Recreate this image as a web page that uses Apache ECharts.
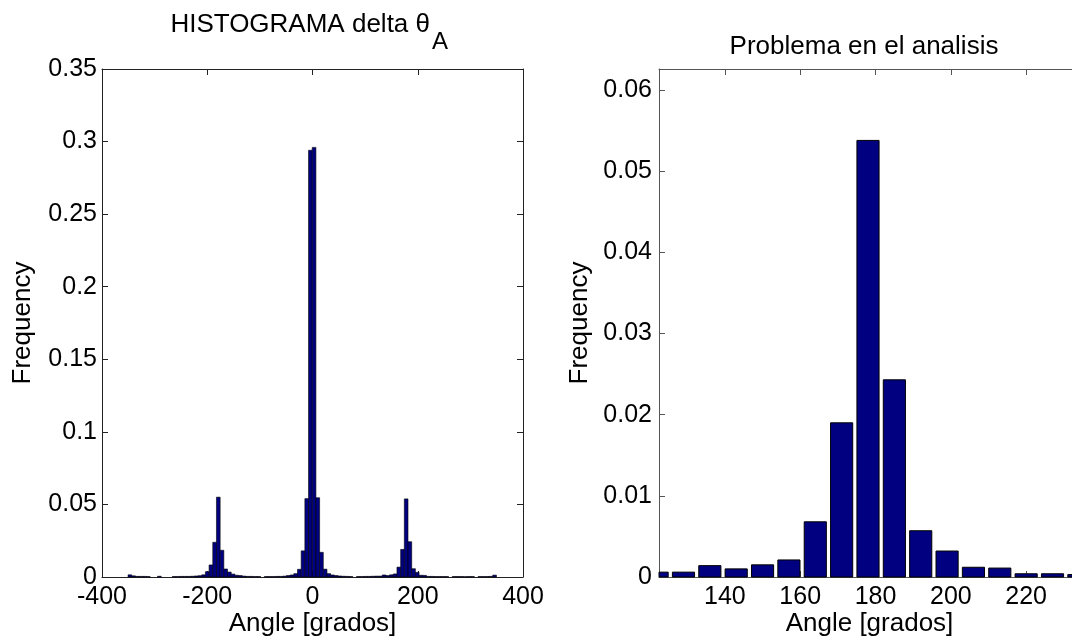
<!DOCTYPE html>
<html>
<head>
<meta charset="utf-8">
<script src="https://cdn.jsdelivr.net/npm/echarts@6/dist/echarts.min.js"></script>
<style>
html,body{margin:0;padding:0;background:#fff;}
#chart{width:1072px;height:638px;}
</style>
</head>
<body>
<div id="chart"></div>
<script>
// Histogram bin centres (degrees) – 100 bins of ~7 degrees
const binCenters = [
  -347,-340,-333,-326,-319,-312,-305,-298,-291,-284,
  -277,-270,-263,-256,-249,-242,-235,-228,-221,-214,
  -207,-200,-193,-186,-179,-172,-165,-158,-151,-144,
  -137,-130,-123,-116,-109,-102,-95,-88,-81,-74,
  -67,-60,-53,-46,-39,-32,-25,-18,-11,-4,
  3,10,17,24,31,38,45,52,59,66,
  73,80,87,94,101,108,115,122,129,136,
  143,150,157,164,171,178,185,192,199,206,
  213,220,227,234,241,248,255,262,269,276,
  283,290,297,304,311,318,325,332,339,346
];
// Relative frequency of each bin
const frequency = [
  0.0015,0.0008,0.0004,0.0004,0.0004,0.0003,0,0,0.0005,0,
  0,0,0.0003,0.0003,0.0004,0.0004,0.0004,0.0005,0.0007,0.0009,
  0.0015,0.0037,0.0083,0.0239,0.0550,0.0184,0.0055,0.0034,0.0020,0.0012,
  0.0010,0.0006,0.0004,0.0004,0.0003,0.0003,0,0.0003,0.0003,0.0003,
  0.0004,0.0004,0.0006,0.0010,0.0014,0.0023,0.0053,0.0180,0.0540,0.2940,
  0.2960,0.0546,0.0170,0.0054,0.0023,0.0014,0.0010,0.0007,0.0005,0.0004,
  0.0003,0,0.0003,0.0003,0.0004,0.0004,0.0005,0.0006,0.0006,0.0014,
  0.0010,0.0015,0.0021,0.0068,0.0190,0.0538,0.0243,0.0057,0.0032,0.0012,
  0.0011,0.0004,0.0004,0.0003,0.0003,0.0003,0.0003,0,0.0003,0.0003,
  0.0003,0.0002,0.0003,0.0003,0,0.0003,0.0003,0.0003,0.0004,0.0013
];
const leftXTicks = [-400,-200,0,200,400];
const rightXTicks = [140,160,180,200,220];
const rightYTicks = [0,0.01,0.02,0.03,0.04,0.05,0.06];

const titleLeft = 'HISTOGRAMA delta θ';
const titleLeftSub = 'A';
const titleRight = 'Problema en el analisis';
const xName = 'Angle [grados]';
const yName = 'Frequency';

const FONT = '"Liberation Sans", Arial, sans-serif';
const BIN = 7;

const chart = echarts.init(document.getElementById('chart'), null, {renderer:'canvas'});
const data = binCenters.map((c,i)=>[c, frequency[i]]);

function makeRender(frac, lw){
  return function(params, api){
    const x = api.value(0), y = api.value(1);
    if (!(y > 0)) return null;
    const hw = BIN*frac/2;
    const p0 = api.coord([x-hw, y]);
    const p1 = api.coord([x+hw, 0]);
    const cs = params.coordSys;
    const rect = echarts.graphic.clipRectByRect(
      {x:p0[0], y:p0[1], width:p1[0]-p0[0], height:p1[1]-p0[1]},
      {x:cs.x, y:cs.y, width:cs.width, height:cs.height});
    if (!rect) return null;
    return {type:'rect', shape:rect, style:{fill:'#000080', stroke:'#000000', lineWidth:lw}};
  };
}

const axisCol = '#222';
const axisCol2 = '#555';
const lblStyle = {color:'#000', fontSize:25, fontFamily:FONT};
const nameStyle = {color:'#000', fontSize:26, fontFamily:FONT};
const ttlStyle = {color:'#000', fontSize:26, fontFamily:FONT, fontWeight:'normal'};

const G1 = {left:102, top:69, width:421, height:508};
const G2 = {left:659, top:69, width:421, height:508};

const option = {
  backgroundColor:'#fff',
  animation:false,
  title:[
    {text:titleLeft, left:430, top:12, textAlign:'right', padding:0, textStyle:ttlStyle},
    {text:titleLeftSub, left:432, top:30, textAlign:'left', padding:0,
     textStyle:{color:'#000', fontSize:24, fontFamily:FONT, fontWeight:'normal'}},
    {text:titleRight, left:864, top:34, textAlign:'center', padding:0, textStyle:ttlStyle}
  ],
  grid:[
    Object.assign({containLabel:false, outerBoundsMode:'none'}, G1),
    Object.assign({containLabel:false, outerBoundsMode:'none'}, G2)
  ],
  xAxis:[
    {type:'value', gridIndex:0, position:'bottom', min:-400, max:400, interval:200,
     axisLine:{onZero:false, lineStyle:{color:axisCol, width:1}},
     axisTick:{inside:true, length:6, lineStyle:{color:axisCol}},
     axisLabel:{...lblStyle, margin:8, customValues:leftXTicks},
     splitLine:{show:false},
     name:xName, nameLocation:'middle', nameGap:34, nameMoveOverlap:false, nameTextStyle:nameStyle},
    {type:'value', gridIndex:0, position:'top', min:-400, max:400, interval:200,
     axisLine:{onZero:false, lineStyle:{color:axisCol, width:1}},
     axisTick:{inside:true, length:6, lineStyle:{color:axisCol}},
     axisLabel:{show:false}, splitLine:{show:false}},
    {type:'value', gridIndex:1, position:'bottom', min:122.5, max:234.3,
     axisLine:{onZero:false, lineStyle:{color:axisCol2, width:1}},
     axisTick:{inside:true, length:6, lineStyle:{color:axisCol2}, customValues:rightXTicks},
     axisLabel:{...lblStyle, margin:8, customValues:rightXTicks},
     splitLine:{show:false},
     name:xName, nameLocation:'middle', nameGap:34, nameMoveOverlap:false, nameTextStyle:nameStyle},
    {type:'value', gridIndex:1, position:'top', min:122.5, max:234.3,
     axisLine:{onZero:false, lineStyle:{color:axisCol2, width:1}},
     axisTick:{inside:true, length:6, lineStyle:{color:axisCol2}, customValues:rightXTicks},
     axisLabel:{show:false}, splitLine:{show:false}}
  ],
  yAxis:[
    {type:'value', gridIndex:0, position:'left', min:0, max:0.35, interval:0.05,
     axisLine:{show:true, onZero:false, lineStyle:{color:axisCol, width:1}},
     axisTick:{show:true, inside:true, length:6, lineStyle:{color:axisCol}},
     axisLabel:{...lblStyle, margin:5},
     splitLine:{show:false},
     name:yName, nameLocation:'middle', nameGap:66, nameMoveOverlap:false, nameTextStyle:nameStyle},
    {type:'value', gridIndex:0, position:'right', min:0, max:0.35, interval:0.05,
     axisLine:{show:true, onZero:false, lineStyle:{color:axisCol, width:1}},
     axisTick:{show:true, inside:true, length:6, lineStyle:{color:axisCol}},
     axisLabel:{show:false}, splitLine:{show:false}},
    {type:'value', gridIndex:1, position:'left', min:0, max:0.0626,
     axisLine:{show:true, onZero:false, lineStyle:{color:axisCol2, width:1}},
     axisTick:{show:true, inside:true, length:6, lineStyle:{color:axisCol2}, customValues:rightYTicks},
     axisLabel:{...lblStyle, margin:7, customValues:rightYTicks},
     splitLine:{show:false},
     name:yName, nameLocation:'middle', nameGap:66, nameMoveOverlap:false, nameTextStyle:nameStyle}
  ],
  series:[
    {type:'custom', xAxisIndex:0, yAxisIndex:0, data:data, renderItem:makeRender(1.0, 0.6)},
    {type:'custom', xAxisIndex:2, yAxisIndex:2, data:data, renderItem:makeRender(0.84, 1)}
  ]
};
chart.setOption(option);
</script>
</body>
</html>
